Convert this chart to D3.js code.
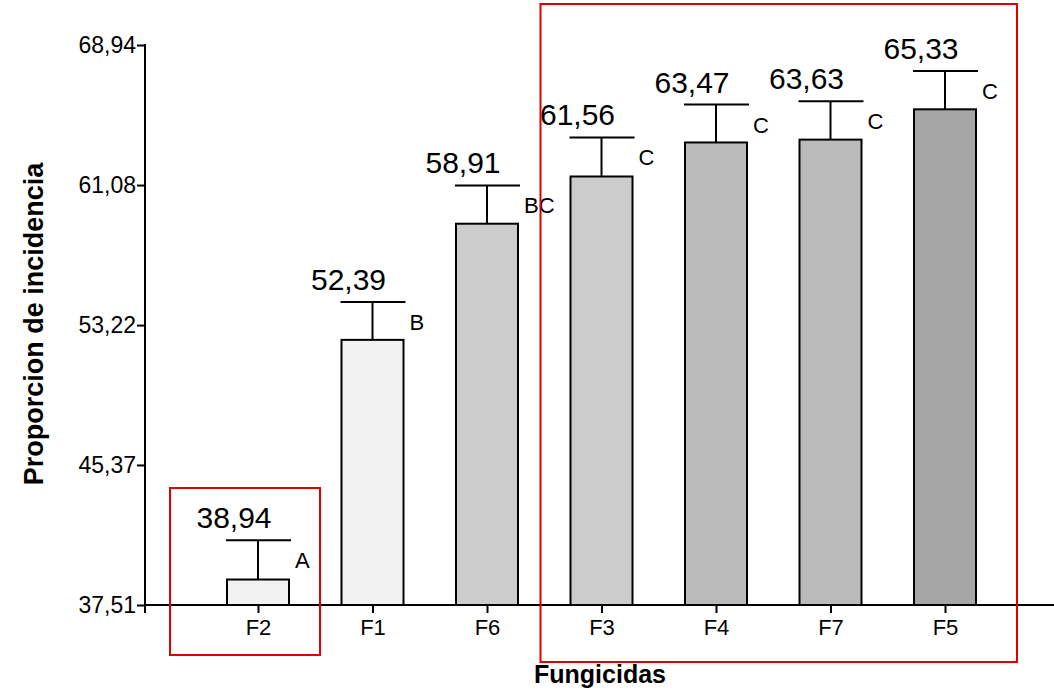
<!DOCTYPE html>
<html lang="es">
  <head>
    <meta charset="UTF-8">
    <title>Proporcion de incidencia</title>
    <style>
      body { margin: 0; background: #fff; }
      svg { display: block; font-family: "Liberation Sans", Arial, sans-serif; }
    </style>
    <script src="https://d3js.org/d3.v7.min.js"></script>
  </head>
  <body>
    <script>
      var categories = ["F2", "F1", "F6", "F3", "F4", "F7", "F5"];
      var means = [38.94, 52.39, 58.91, 61.56, 63.47, 63.63, 65.33];
      var errors = [2.2, 2.13, 2.15, 2.19, 2.13, 2.15, 2.15];
      var letters = ["A", "B", "BC", "C", "C", "C", "C"];
      var fills = ["#f2f2f2", "#f2f2f2", "#cccccc", "#cccccc", "#bababa", "#bababa", "#a6a6a6"];
      var yTicks = [37.51, 45.37, 53.22, 61.08, 68.94];

      var width = 1054, height = 690;
      var barW = 62;

      var svg = d3.select("body").append("svg")
        .attr("width", width)
        .attr("height", height);

      var y = d3.scaleLinear().domain([37.51, 68.94]).range([605, 45]);
      var x = d3.scalePoint().domain(categories).range([258, 945]);
      var fmt = function (d) { return d.toFixed(2).replace(".", ","); };

      var data = categories.map(function (c, i) {
        return { cat: c, mean: means[i], err: errors[i], letter: letters[i], fill: fills[i] };
      });

      // axes
      var yAxis = svg.append("g")
        .attr("transform", "translate(145,0)")
        .call(d3.axisLeft(y).tickValues(yTicks).tickFormat(fmt).tickSize(8).tickPadding(1));
      yAxis.attr("font-size", 23).attr("font-family", null);
      yAxis.select(".domain").remove();
      yAxis.selectAll("line").attr("stroke", "#000").attr("stroke-width", 2);
      yAxis.selectAll("text").attr("fill", "#000");

      svg.append("line")
        .attr("x1", 145).attr("x2", 145)
        .attr("y1", y(68.94) - 1).attr("y2", y(37.51) + 8)
        .attr("stroke", "#000").attr("stroke-width", 2);

      var xAxis = svg.append("g")
        .attr("transform", "translate(0," + y(37.51) + ")")
        .call(d3.axisBottom(x).tickSize(8).tickPadding(6));
      xAxis.attr("font-size", 22).attr("font-family", null);
      xAxis.select(".domain").remove();
      xAxis.selectAll("line").attr("stroke", "#000").attr("stroke-width", 2);
      xAxis.selectAll("text").attr("fill", "#000");

      // bars
      var g = svg.append("g");
      g.selectAll("rect.bar").data(data).enter().append("rect")
        .attr("class", "bar")
        .attr("x", function (d) { return x(d.cat) - barW / 2; })
        .attr("y", function (d) { return y(d.mean); })
        .attr("width", barW)
        .attr("height", function (d) { return y(37.51) - y(d.mean); })
        .attr("fill", function (d) { return d.fill; })
        .attr("stroke", "#000").attr("stroke-width", 2);

      svg.append("line")
        .attr("x1", 145).attr("x2", width)
        .attr("y1", y(37.51)).attr("y2", y(37.51))
        .attr("stroke", "#000").attr("stroke-width", 2);

      // error bars
      g.selectAll("line.err").data(data).enter().append("line")
        .attr("class", "err")
        .attr("x1", function (d) { return x(d.cat); })
        .attr("x2", function (d) { return x(d.cat); })
        .attr("y1", function (d) { return y(d.mean); })
        .attr("y2", function (d) { return y(d.mean + d.err); })
        .attr("stroke", "#000").attr("stroke-width", 2);
      g.selectAll("line.cap").data(data).enter().append("line")
        .attr("class", "cap")
        .attr("x1", function (d) { return x(d.cat) - 32; })
        .attr("x2", function (d) { return x(d.cat) + 33; })
        .attr("y1", function (d) { return y(d.mean + d.err); })
        .attr("y2", function (d) { return y(d.mean + d.err); })
        .attr("stroke", "#000").attr("stroke-width", 2);

      // value labels
      g.selectAll("text.val").data(data).enter().append("text")
        .attr("class", "val")
        .attr("x", function (d) { return x(d.cat) - 24; })
        .attr("y", function (d) { return y(d.mean + d.err) - 12; })
        .attr("text-anchor", "middle")
        .attr("font-size", 30)
        .text(function (d) { return fmt(d.mean); });

      // significance letters
      g.selectAll("text.let").data(data).enter().append("text")
        .attr("class", "let")
        .attr("x", function (d) { return x(d.cat) + barW / 2 + 6; })
        .attr("y", function (d) { return y(d.mean + d.err) + 28; })
        .attr("font-size", 22)
        .text(function (d) { return d.letter; });

      // axis titles
      svg.append("text")
        .attr("x", 600).attr("y", 683)
        .attr("text-anchor", "middle")
        .attr("font-size", 25).attr("font-weight", "bold")
        .text("Fungicidas");
      svg.append("text")
        .attr("transform", "translate(43,324) rotate(-90)")
        .attr("text-anchor", "middle")
        .attr("font-size", 27).attr("font-weight", "bold")
        .text("Proporcion de incidencia");

      // red highlight boxes
      svg.append("rect")
        .attr("x", x("F2") - 88).attr("y", 488)
        .attr("width", 150).attr("height", 167)
        .attr("fill", "none").attr("stroke", "#e00000").attr("stroke-width", 2);
      svg.append("rect")
        .attr("x", x("F3") - 61).attr("y", 4)
        .attr("width", x("F5") + 72 - (x("F3") - 61)).attr("height", 658)
        .attr("fill", "none").attr("stroke", "#e00000").attr("stroke-width", 2);
    </script>
  </body>
</html>
